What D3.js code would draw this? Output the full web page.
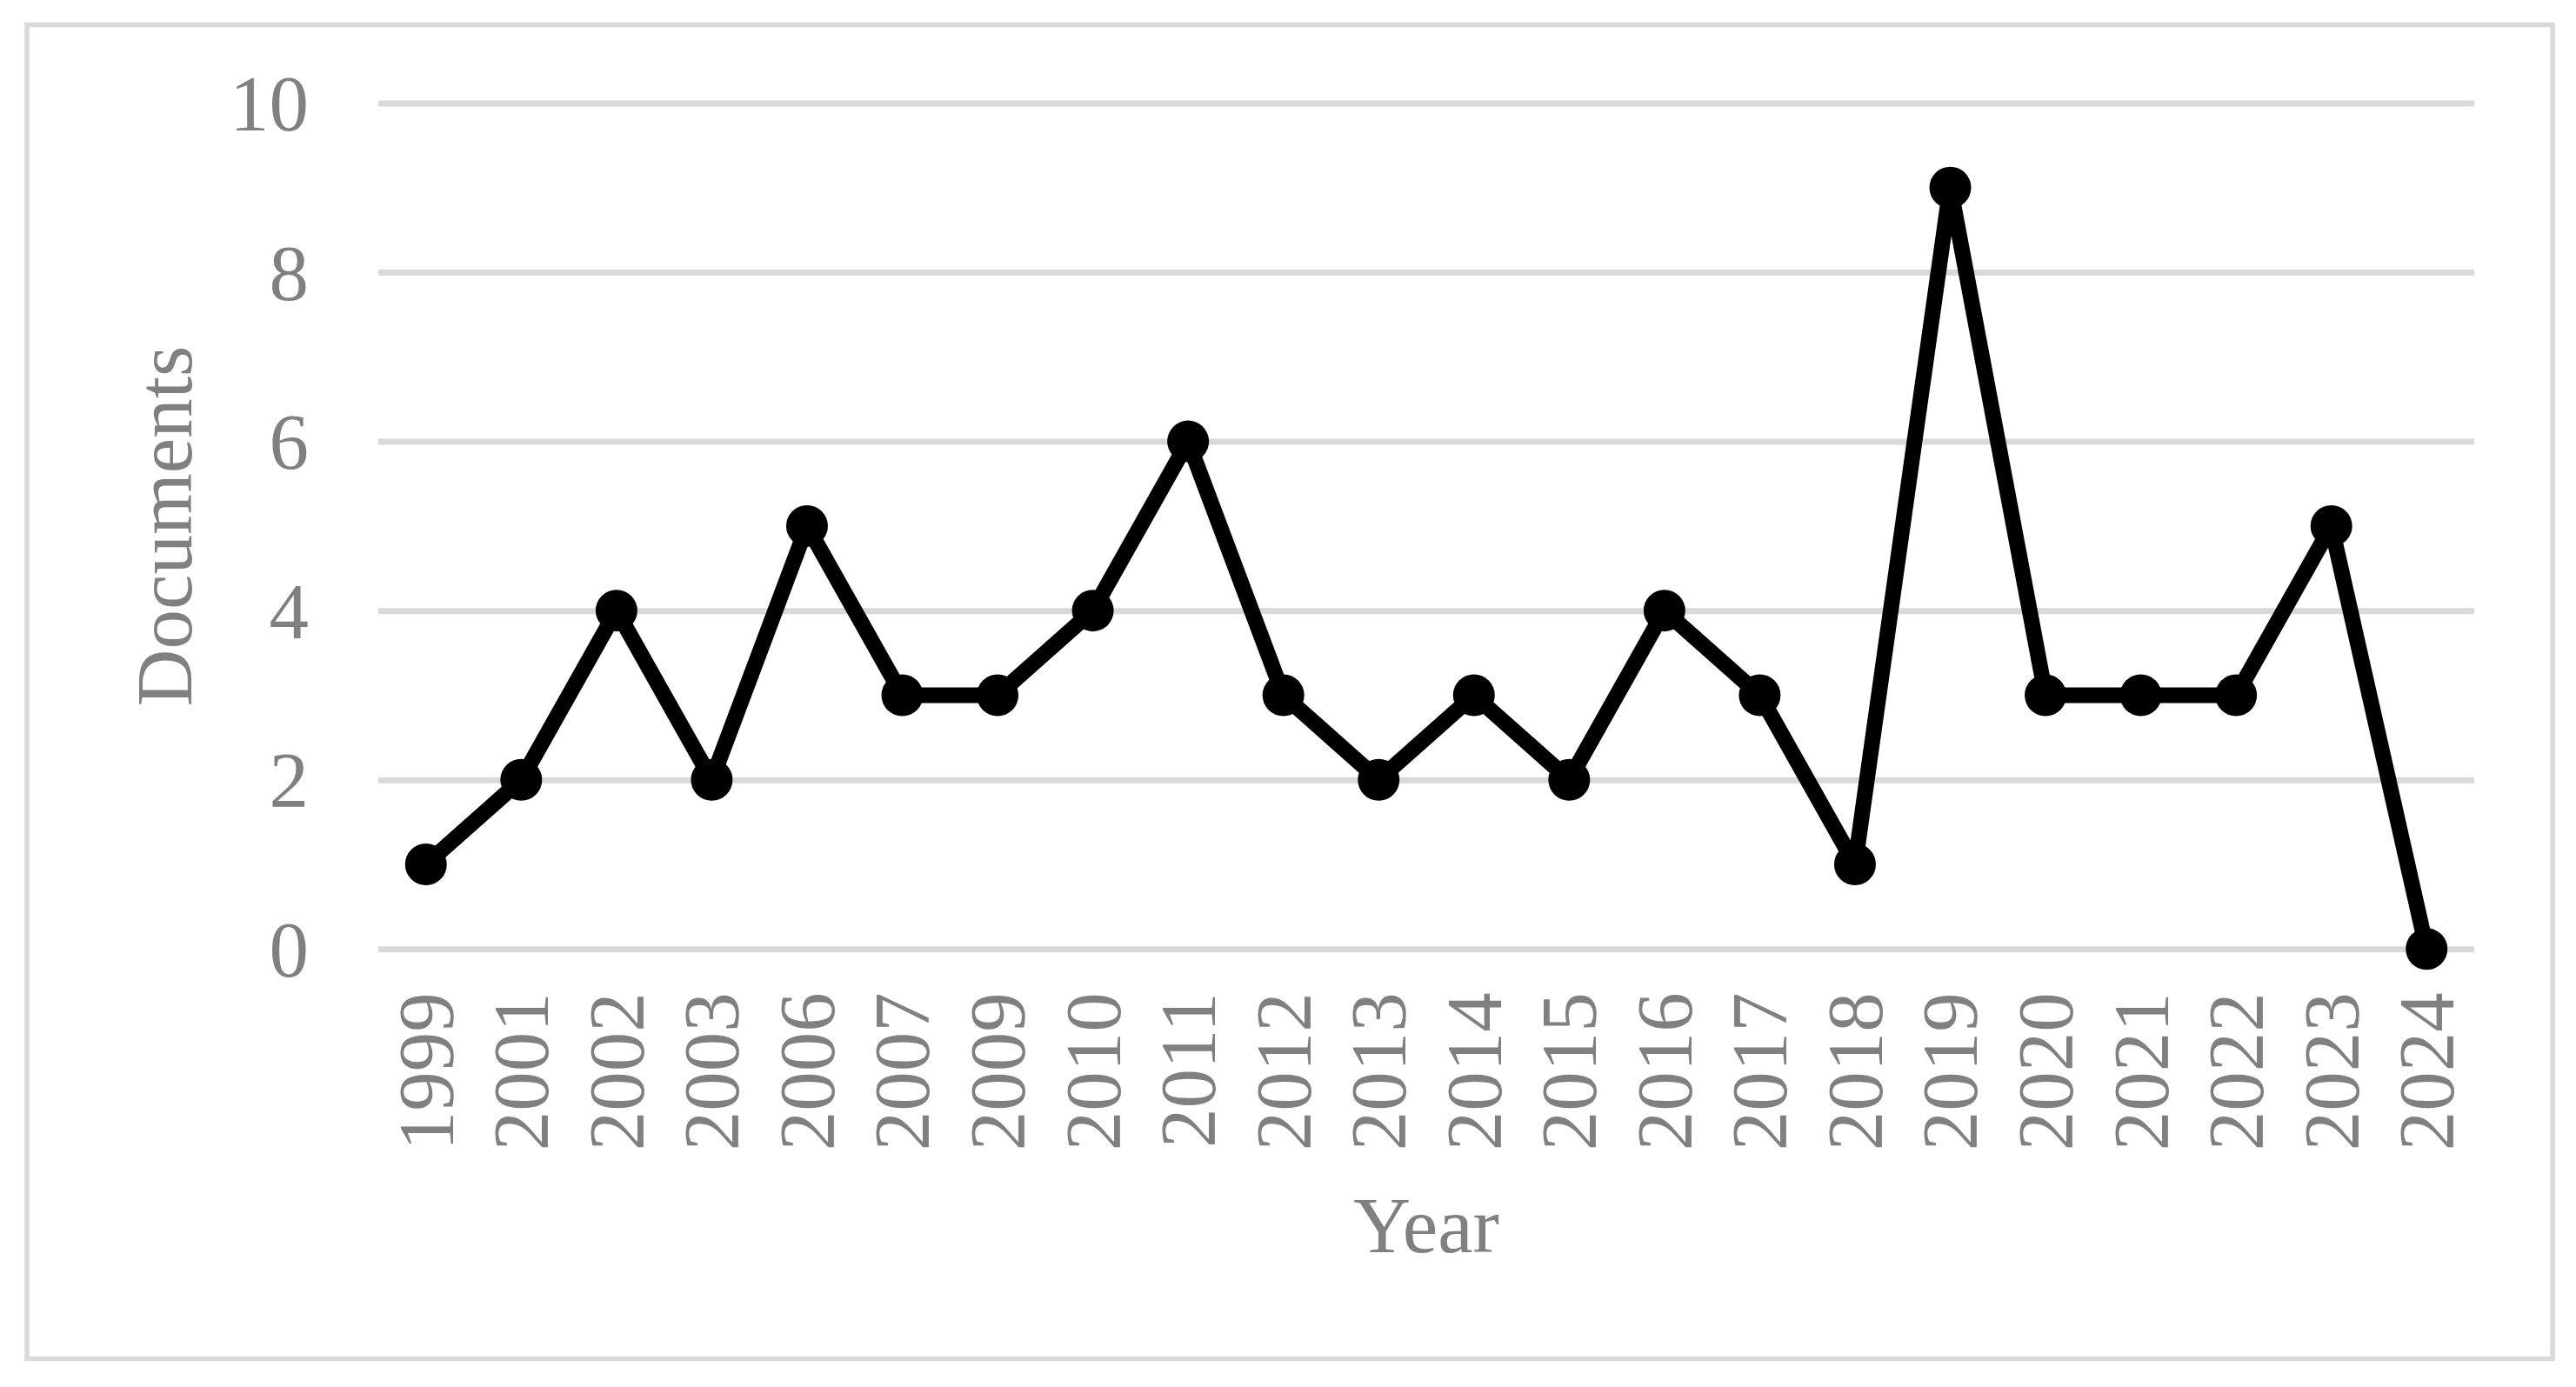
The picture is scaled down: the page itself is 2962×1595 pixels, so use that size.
<!DOCTYPE html>
<html lang="en">
<head>
<meta charset="UTF-8">
<title>Documents per year</title>
<script src="https://d3js.org/d3.v7.min.js"></script>
<style>
    body { margin: 0; background: #fff; }
    svg { display: block; }
    text { font-family: "Times New Roman", "Liberation Serif", serif; fill: #808080; }
</style>
</head>
<body>
<div id="chart"></div>
<script>
    // data
    const years = ['1999', '2001', '2002', '2003', '2006', '2007', '2009', '2010', '2011', '2012', '2013',
        '2014', '2015', '2016', '2017', '2018', '2019', '2020', '2021', '2022', '2023', '2024'];
    const documents = [1, 2, 4, 2, 5, 3, 3, 4, 6, 3, 2, 3, 2, 4, 3, 1, 9, 3, 3, 3, 5, 0];
    const yTicks = [0, 2, 4, 6, 8, 10];

    const width = 2962;
    const height = 1595;
    const plot = { left: 435, right: 2845, top: 118.5, bottom: 1091.3 };
    const fontSize = 91;

    const svg = d3.select('#chart')
        .append('svg')
        .attr('width', width)
        .attr('height', height);

    // outer frame
    svg.append('rect')
        .attr('x', 31)
        .attr('y', 28.5)
        .attr('width', 2904)
        .attr('height', 1534)
        .attr('fill', 'none')
        .attr('stroke', '#d9d9d9')
        .attr('stroke-width', 5.5);

    const x = d3.scaleBand()
        .domain(years)
        .range([plot.left, plot.right])
        .padding(0);

    const y = d3.scaleLinear()
        .domain([0, 10])
        .range([plot.bottom, plot.top]);

    // y axis + gridlines
    const yAxis = svg.append('g')
        .attr('transform', `translate(${plot.left},0)`)
        .call(d3.axisLeft(y)
            .tickValues(yTicks)
            .tickSize(-(plot.right - plot.left))
            .tickPadding(80));
    yAxis.select('.domain').remove();
    yAxis.selectAll('line')
        .attr('stroke', '#d9d9d9')
        .attr('stroke-width', 7);
    yAxis.selectAll('text')
        .attr('font-size', fontSize)
        .attr('font-family', '"Times New Roman", "Liberation Serif", serif')
        .attr('fill', '#808080')
        .attr('dy', '0.34em');

    // x axis labels (rotated)
    const xAxis = svg.append('g')
        .attr('transform', `translate(0,${plot.bottom})`)
        .call(d3.axisBottom(x).tickSize(0).tickPadding(0));
    xAxis.select('.domain').remove();
    xAxis.selectAll('text')
        .attr('font-size', fontSize)
        .attr('font-family', '"Times New Roman", "Liberation Serif", serif')
        .attr('fill', '#808080')
        .attr('transform', 'rotate(-90)')
        .attr('text-anchor', 'end')
        .attr('x', -50)
        .attr('y', 0)
        .attr('dy', '0.34em');

    // axis titles
    svg.append('text')
        .attr('x', (plot.left + plot.right) / 2)
        .attr('y', 1440)
        .attr('text-anchor', 'middle')
        .attr('font-size', fontSize)
        .text('Year');

    svg.append('text')
        .attr('transform', `translate(220,${(plot.top + plot.bottom) / 2}) rotate(-90)`)
        .attr('text-anchor', 'middle')
        .attr('font-size', fontSize)
        .text('Documents');

    // series
    const cx = (d, i) => x(years[i]) + x.bandwidth() / 2;

    const line = d3.line()
        .x(cx)
        .y(d => y(d));

    svg.append('path')
        .datum(documents)
        .attr('d', line)
        .attr('fill', 'none')
        .attr('stroke', '#000')
        .attr('stroke-width', 18)
        .attr('stroke-linejoin', 'round');

    svg.append('g')
        .selectAll('circle')
        .data(documents)
        .join('circle')
        .attr('cx', cx)
        .attr('cy', d => y(d))
        .attr('r', 24)
        .attr('fill', '#000');
</script>
</body>
</html>
